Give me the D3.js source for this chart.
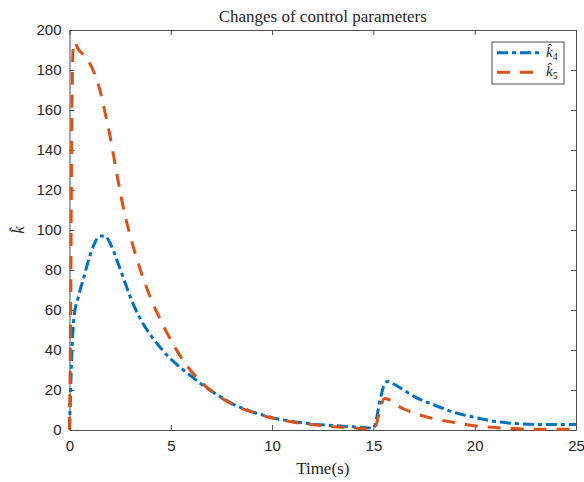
<!DOCTYPE html>
<html>
<head>
<meta charset="utf-8">
<title>Changes of control parameters</title>
<script src="https://d3js.org/d3.v7.min.js"></script>
<style>
  body { margin: 0; background: #fff; }
  svg text { fill: #262626; }
</style>
</head>
<body>
<div id="chart"></div>
<script>
// time axis (s) and the two adaptive parameters
const time = [0, 0.05, 0.1, 0.15, 0.2, 0.27, 0.4, 0.55, 0.7, 0.9, 1.2, 1.5, 1.75, 2.0, 2.25, 2.5, 2.75, 3.0, 3.5, 4.0, 4.5, 5.0, 5.5, 6.0, 6.5, 7, 7.5, 8, 9, 10, 11, 12, 13, 14, 15, 15.1, 15.25, 15.4, 15.55, 15.7, 16, 16.5, 17, 18, 19, 20, 21, 22, 23, 24, 25];
const k4 = [0, 18, 34, 46, 54, 60, 65, 71, 76, 83.5, 92.5, 97, 97, 93.5, 87.5, 80.5, 73.5, 66.5, 55.5, 47.5, 41, 35.5, 31, 27, 23, 19.5, 16.3, 13.3, 9.2, 6.2, 4.3, 3, 2.3, 1.6, 1, 3, 11, 18, 23, 24.3, 23, 20, 16.8, 12.5, 8.8, 6.3, 4.3, 3.2, 2.8, 2.8, 2.8];
const k5 = [0, 50, 135, 182, 193, 194, 191, 189, 187.5, 185, 179, 170, 159, 147, 133, 119, 107, 97, 80, 66, 55, 45, 36.5, 29.5, 24, 19.5, 16, 13, 9, 6, 4, 2.7, 1.6, 1, 0.3, 1.5, 7, 13, 15.8, 15.5, 13.3, 10.5, 8.5, 5.6, 3.8, 2.1, 1.2, 0.7, 0.4, 0.4, 0.4];

const xTicks = [0, 5, 10, 15, 20, 25];
const yTicks = [0, 20, 40, 60, 80, 100, 120, 140, 160, 180, 200];

const w = 584, h = 482;
const margin = { left: 69.5, right: 8, top: 30, bottom: 52 };
const x0 = margin.left, x1 = w - margin.right;
const y0 = h - margin.bottom, y1 = margin.top;

const svg = d3.select("#chart").append("svg")
  .attr("width", w)
  .attr("height", h);

const xScale = d3.scaleLinear().domain([0, 25]).range([x0, x1]);
const yScale = d3.scaleLinear().domain([0, 200]).range([y0, y1]);

const axisColor = "#4d4d4d";
const tickFont = "'Liberation Sans', Arial, sans-serif";
const serif = "'Liberation Serif', 'Times New Roman', serif";

// axes: ticks point inward, box on all four sides
svg.append("g")
   .attr("transform", `translate(0,${y0})`)
   .call(d3.axisBottom(xScale).tickValues(xTicks).tickSizeInner(-5).tickSizeOuter(0).tickPadding(10))
   .call(g => g.selectAll("text").style("font-family", tickFont).style("font-size", "15px").attr("fill", "#262626"));
svg.append("g")
   .attr("transform", `translate(0,${y1})`)
   .call(d3.axisTop(xScale).tickValues(xTicks).tickSizeInner(-5).tickSizeOuter(0).tickFormat(""));
svg.append("g")
   .attr("transform", `translate(${x0},0)`)
   .call(d3.axisLeft(yScale).tickValues(yTicks).tickSizeInner(-5).tickSizeOuter(0).tickPadding(8))
   .call(g => g.selectAll("text").style("font-family", tickFont).style("font-size", "15px").attr("fill", "#262626"));
svg.append("g")
   .attr("transform", `translate(${x1},0)`)
   .call(d3.axisRight(yScale).tickValues(yTicks).tickSizeInner(-5).tickSizeOuter(0).tickFormat(""));

svg.selectAll(".domain, .tick line")
   .attr("stroke", axisColor)
   .attr("stroke-width", 1);

// series
const series = [
  { name: "4", values: k4, color: "#0072BD", dash: "11,4,4,4" },
  { name: "5", values: k5, color: "#D95319", dash: "13,10" }
];

const line = d3.line()
  .x((d, i) => xScale(time[i]))
  .y(d => yScale(d))
  .curve(d3.curveMonotoneX);

svg.selectAll(".series")
   .data(series)
   .enter()
   .append("path")
   .attr("class", "series")
   .attr("fill", "none")
   .attr("stroke", d => d.color)
   .attr("stroke-width", 3)
   .attr("stroke-dasharray", d => d.dash)
   .attr("d", d => line(d.values));

// title and axis labels
svg.append("text")
   .attr("x", (x0 + x1) / 2)
   .attr("y", 22)
   .attr("text-anchor", "middle")
   .style("font-family", serif)
   .style("font-size", "17px")
   .text("Changes of control parameters");

svg.append("text")
   .attr("x", (x0 + x1) / 2)
   .attr("y", 474)
   .attr("text-anchor", "middle")
   .style("font-family", serif)
   .style("font-size", "17px")
   .text("Time(s)");

svg.append("text")
   .attr("transform", "translate(24,230) rotate(-90)")
   .attr("text-anchor", "middle")
   .style("font-family", serif)
   .style("font-style", "italic")
   .style("font-size", "17px")
   .text("k\u0302");

// legend
const legend = svg.append("g");
legend.append("rect")
   .attr("x", 492)
   .attr("y", 42)
   .attr("width", 72)
   .attr("height", 42)
   .attr("fill", "#fff")
   .attr("stroke", axisColor)
   .attr("stroke-width", 1);

series.forEach((s, i) => {
  const ly = 52.7 + i * 19.6;
  legend.append("line")
     .attr("x1", 497).attr("x2", 543)
     .attr("y1", ly).attr("y2", ly)
     .attr("stroke", s.color)
     .attr("stroke-width", 3)
     .attr("stroke-dasharray", s.dash);
  const t = legend.append("text")
     .attr("x", 546)
     .attr("y", ly + 4)
     .style("font-family", serif)
     .style("font-size", "15px");
  t.append("tspan").style("font-style", "italic").text("k\u0302");
  t.append("tspan").attr("dy", 3).style("font-size", "10px").text(s.name);
});
</script>
</body>
</html>
